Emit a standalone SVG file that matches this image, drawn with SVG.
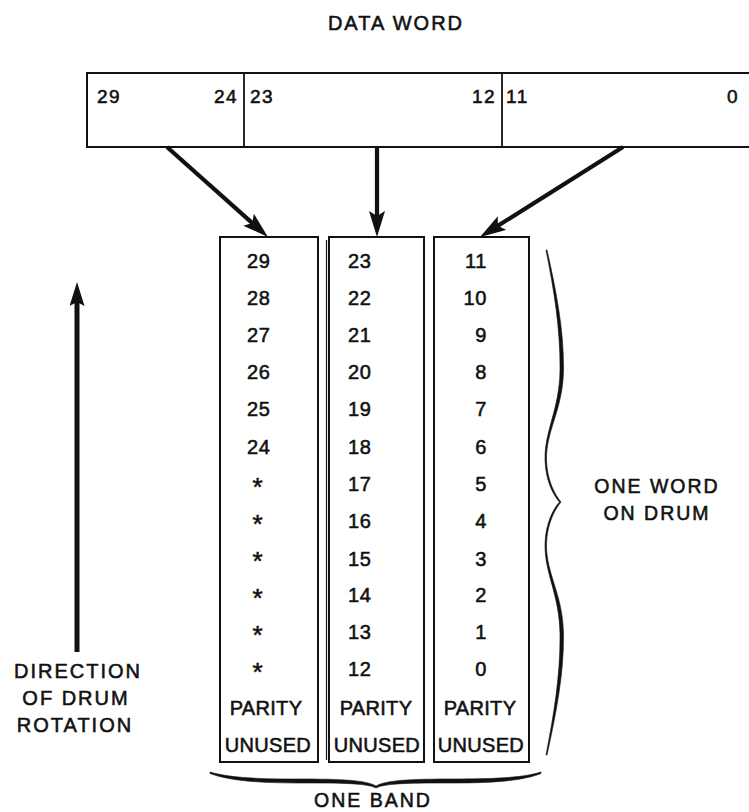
<svg xmlns="http://www.w3.org/2000/svg" width="749" height="812" viewBox="0 0 749 812">
<style>
text{font-family:"Liberation Sans",Arial,sans-serif;fill:#111;stroke:#111;stroke-width:0.55px;}
.lbl{font-size:20px;letter-spacing:2px;}
.dw{font-size:19px;letter-spacing:1.5px;}
.num{font-size:20px;letter-spacing:0.6px;}
.star{font-size:26px;}
.wd{font-size:20px;letter-spacing:0.3px;text-anchor:middle;}
.box{fill:none;stroke:#111;stroke-width:2;}
.div{fill:none;stroke:#111;stroke-width:1.8;}
.thin{fill:none;stroke:#111;stroke-width:1.2;}
.conn{fill:none;stroke:#111;stroke-width:4.2;}
.brace{fill:#111;stroke:#111;stroke-width:0.6;}
</style>
<defs>
<marker id="head" markerUnits="userSpaceOnUse" markerWidth="30" markerHeight="20" refX="14" refY="8" orient="auto">
<path d="M0,0 L26,8 L0,16 L5,8 Z" fill="#111"/>
</marker>
<marker id="bighead" markerUnits="userSpaceOnUse" markerWidth="30" markerHeight="20" refX="12" refY="7.5" orient="auto">
<path d="M0,0 L24,7.5 L0,15 L4,7.5 Z" fill="#111"/>
</marker>
</defs>

<g id="title">
<text class="lbl" x="396" y="30" text-anchor="middle">DATA WORD</text>
</g>

<g id="data-word">
<path class="box" d="M750,73 H87 V147 H750"/>
<line class="div" x1="244" y1="73" x2="244" y2="147"/>
<line class="div" x1="502" y1="73" x2="502" y2="147"/>
<text class="dw" x="97" y="103">29</text>
<text class="dw" x="214" y="103">24</text>
<text class="dw" x="250" y="103">23</text>
<text class="dw" x="472" y="103">12</text>
<text class="dw" x="506" y="103">11</text>
<text class="dw" x="727" y="103">0</text>
</g>

<g id="connectors">
<path class="conn" d="M167,147 L259,229" marker-end="url(#head)"/>
<path class="conn" d="M377,147 L377,225" marker-end="url(#head)"/>
<path class="conn" d="M623,147 L490.2,230.6" marker-end="url(#head)"/>
</g>

<g id="band-high">
<rect class="box" x="220" y="237" width="98" height="525"/>
<g class="num">
<text x="247" y="268">29</text>
<text x="247" y="305">28</text>
<text x="247" y="342">27</text>
<text x="247" y="379">26</text>
<text x="247" y="416">25</text>
<text x="247" y="454">24</text>
</g>
<g class="star" text-anchor="middle">
<text x="257.5" y="496">*</text>
<text x="257.5" y="533">*</text>
<text x="257.5" y="570">*</text>
<text x="257.5" y="607">*</text>
<text x="257.5" y="644">*</text>
<text x="257.5" y="681">*</text>
</g>
<text class="wd" x="266" y="715">PARITY</text>
<text class="wd" x="268" y="752">UNUSED</text>
</g>

<g id="band-mid">
<rect class="box" x="329" y="237" width="95" height="525"/>
<line class="thin" x1="326.5" y1="240" x2="326.5" y2="760"/>
<g class="num">
<text x="348" y="268">23</text>
<text x="348" y="305">22</text>
<text x="348" y="342">21</text>
<text x="348" y="379">20</text>
<text x="348" y="416">19</text>
<text x="348" y="454">18</text>
<text x="348" y="491">17</text>
<text x="348" y="528">16</text>
<text x="348" y="566">15</text>
<text x="348" y="602">14</text>
<text x="348" y="639">13</text>
<text x="348" y="676">12</text>
</g>
<text class="wd" x="376" y="715">PARITY</text>
<text class="wd" x="377" y="752">UNUSED</text>
</g>

<g id="band-low">
<rect class="box" x="434" y="237" width="95" height="525"/>
<g class="num" text-anchor="end">
<text x="487" y="268">11</text>
<text x="487" y="305">10</text>
<text x="487" y="342">9</text>
<text x="487" y="379">8</text>
<text x="487" y="416">7</text>
<text x="487" y="454">6</text>
<text x="487" y="491">5</text>
<text x="487" y="528">4</text>
<text x="487" y="566">3</text>
<text x="487" y="602">2</text>
<text x="487" y="639">1</text>
<text x="487" y="676">0</text>
</g>
<text class="wd" x="480" y="715">PARITY</text>
<text class="wd" x="481" y="752">UNUSED</text>
</g>

<g id="direction">
<path d="M77,652 L77,294" fill="none" stroke="#111" stroke-width="5" marker-end="url(#bighead)"/>
<text class="lbl" x="78" y="678" text-anchor="middle">DIRECTION</text>
<text class="lbl" x="76" y="705" text-anchor="middle">OF DRUM</text>
<text class="lbl" x="75" y="732" text-anchor="middle">ROTATION</text>
</g>

<g id="one-word">
<path class="brace" d="M547,250 C556,290 564,330 563.5,370 C563,410 546,430 546.5,460 C547,480 555,495 561,502 C555,509 547,524 546.5,544 C546,574 563,594 563.5,634 C564,674 556,714 547,755 L546,755 C554,714 560.5,674 560,634 C559.5,594 544.5,574 545,544 C545.5,524 553,509 559.5,502 C553,495 545.5,480 545,460 C544.5,430 559.5,410 560,370 C560.5,330 554,290 546,250 Z"/>
<text class="lbl" x="657" y="493" text-anchor="middle" style="font-size:19.5px">ONE WORD</text>
<text class="lbl" x="657" y="520" text-anchor="middle" style="font-size:19.5px">ON DRUM</text>
</g>

<g id="one-band">
<path class="brace" d="M210,772 C230,778 260,779 300,779 C340,779 366,780 376,786 C386,780 412,779 452,779 C492,779 522,778 541,772 L541,773.5 C522,781 492,783 452,783 C412,783 386,783 376,788 C366,783 340,783 300,783 C260,783 230,781 210,773.5 Z"/>
<text class="lbl" x="373" y="807" text-anchor="middle" style="font-size:19.5px">ONE BAND</text>
</g>
</svg>
